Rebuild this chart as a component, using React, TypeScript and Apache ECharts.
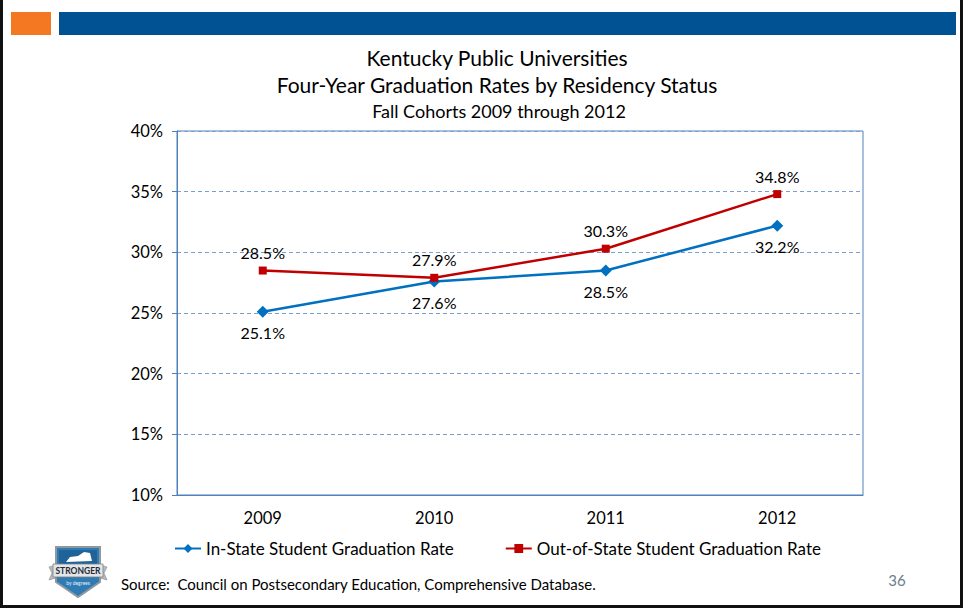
import React, { useEffect, useRef } from "react";
import * as echarts from "echarts";

const categories = ["2009", "2010", "2011", "2012"];
const inStateRates = [25.1, 27.6, 28.5, 32.2];
const outOfStateRates = [28.5, 27.9, 30.3, 34.8];
const yTicks = { min: 10, max: 40, interval: 5 };
const titleLines = [
  "Kentucky Public Universities",
  "Four-Year Graduation Rates by Residency Status",
  "Fall Cohorts 2009 through 2012",
];
const seriesNames = ["In-State Student Graduation Rate", "Out-of-State Student Graduation Rate"];
const sourceText = "Source:  Council on Postsecondary Education, Comprehensive Database.";
const pageNumber = "36";

const FONT = "Lato, 'Noto Sans', sans-serif";

export default function App() {
  const ref = useRef<HTMLDivElement>(null);
  useEffect(() => {
    document.body.style.margin = "0";
    const chart = echarts.init(ref.current!, null, { renderer: "svg" });
    const option: any = {
      animation: false,
      backgroundColor: "#ffffff",
      textStyle: { fontFamily: FONT },
      title: [
        { text: titleLines[0], left: 492, top: 42, textAlign: "center", textStyle: { fontFamily: FONT, fontSize: 21, fontWeight: "normal", color: "#000" } },
        { text: titleLines[1], left: 492, top: 69, textAlign: "center", textStyle: { fontFamily: FONT, fontSize: 21, fontWeight: "normal", color: "#000" } },
        { text: titleLines[2], left: 494, top: 97, textAlign: "center", textStyle: { fontFamily: FONT, fontSize: 18, fontWeight: "normal", color: "#000" } },
      ],
      grid: {
        left: 177, right: 102, top: 131, bottom: 116,
        show: true, borderColor: "#4f81bd", borderWidth: 1, backgroundColor: "transparent",
      },
      legend: {
        left: 169, top: 535, itemGap: 51, itemWidth: 26, itemHeight: 11,
        textStyle: { fontFamily: FONT, fontSize: 17, color: "#000" },
        data: seriesNames,
      },
      xAxis: {
        type: "category", data: categories, boundaryGap: true,
        axisLine: { lineStyle: { color: "#4f81bd", width: 1 } },
        axisTick: { alignWithLabel: true, inside: true, length: 4, lineStyle: { color: "#4f81bd" } },
        axisLabel: { fontFamily: FONT, fontSize: 16.5, color: "#000", margin: 14 },
      },
      yAxis: {
        type: "value", min: yTicks.min, max: yTicks.max, interval: yTicks.interval,
        axisLine: { show: true, lineStyle: { color: "#4f81bd", width: 1 } },
        axisTick: { show: true, length: 5, lineStyle: { color: "#4f81bd" } },
        axisLabel: { formatter: "{value}%", fontFamily: FONT, fontSize: 16.5, color: "#000", margin: 14 },
        splitLine: { lineStyle: { color: "#7aa0d2", type: [4, 3], width: 1 } },
      },
      series: [
        {
          name: seriesNames[0], type: "line", data: inStateRates,
          symbol: "diamond", symbolSize: 12,
          itemStyle: { color: "#0070c0" }, lineStyle: { color: "#0070c0", width: 2.5 },
          label: { show: true, position: "bottom", distance: 7, formatter: (p: any) => p.value.toFixed(1) + "%", fontFamily: FONT, fontSize: 16, color: "#000" },
        },
        {
          name: seriesNames[1], type: "line", data: outOfStateRates,
          symbol: "rect", symbolSize: 8,
          itemStyle: { color: "#c00000" }, lineStyle: { color: "#c00000", width: 2.5 },
          label: { show: true, position: "top", distance: 6, formatter: (p: any) => p.value.toFixed(1) + "%", fontFamily: FONT, fontSize: 16, color: "#000" },
        },
      ],
      graphic: [
        { type: "rect", shape: { x: 11, y: 12, width: 40, height: 23 }, style: { fill: "#f47721" } },
        { type: "rect", shape: { x: 59, y: 12, width: 897, height: 23 }, style: { fill: "#005293" } },
        { type: "rect", shape: { x: 0, y: 0, width: 3, height: 608 }, style: { fill: "#111" } },
        { type: "rect", shape: { x: 960, y: 0, width: 3, height: 608 }, style: { fill: "#111" } },
        { type: "rect", shape: { x: 0, y: 605, width: 963, height: 3 }, style: { fill: "#111" } },
        { type: "text", x: 121, y: 584, style: { text: sourceText, font: "15px " + FONT, fill: "#000", verticalAlign: "middle" } },
        { type: "text", x: 897, y: 580, style: { text: pageNumber, font: "15px " + FONT, fill: "#6a7d8a", align: "center", verticalAlign: "middle" } },
        // logo shield
        { type: "polygon", shape: { points: [[56, 547], [100, 547], [100, 582], [78, 597], [56, 582]] }, style: { fill: "#2f7cb5", stroke: "#8f989f", lineWidth: 2 } },
        { type: "polygon", shape: { points: [[59, 550], [97, 550], [97, 565], [59, 565]] }, style: { fill: "#1f6399" } },
        { type: "polygon", shape: { points: [[66, 562], [70, 557], [78, 556], [84, 552], [90, 553], [92, 561]] }, style: { fill: "#ffffff" } },
        { type: "polygon", shape: { points: [[49, 567], [56, 565], [56, 578], [49, 580], [52, 573]] }, style: { fill: "#b7bcc1", stroke: "#777", lineWidth: 0.5 } },
        { type: "polygon", shape: { points: [[107, 567], [100, 565], [100, 578], [107, 580], [104, 573]] }, style: { fill: "#b7bcc1", stroke: "#777", lineWidth: 0.5 } },
        { type: "rect", shape: { x: 53, y: 564, width: 50, height: 13 }, style: { fill: "#e3e5e7", stroke: "#7a8087", lineWidth: 0.8 } },
        { type: "text", x: 78, y: 570.5, style: { text: "STRONGER", font: "bold 8.5px " + FONT, fill: "#1f2a36", align: "center", verticalAlign: "middle" } },
        { type: "text", x: 78, y: 583, style: { text: "by degrees", font: "5px " + FONT, fill: "#e6eef6", align: "center", verticalAlign: "middle" } },
      ],
    };
    chart.setOption(option);
    return () => chart.dispose();
  }, []);
  return <div ref={ref} style={{ position: "fixed", left: 0, top: 0, width: 965, height: 611 }} />;
}
